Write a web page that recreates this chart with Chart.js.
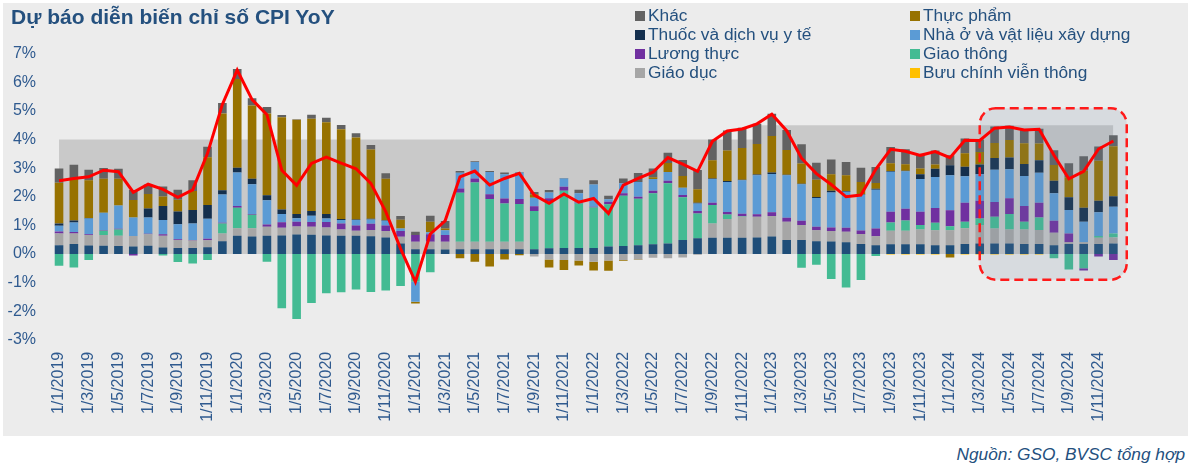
<!DOCTYPE html>
<html lang="vi">
<head>
<meta charset="utf-8">
<title>Dự báo diễn biến chỉ số CPI YoY</title>
<script src="https://cdn.jsdelivr.net/npm/chart.js@4.4.1/dist/chart.umd.min.js"></script>
<style>
  body { margin: 0; background: #fff; font-family: Arial, "Liberation Sans", sans-serif; }
  #wrap { position: relative; width: 1200px; height: 465px; overflow: hidden; }
  #panel { position: absolute; left: 3px; top: 3px; width: 1185px; height: 433px; background: #ececec; }
  #cpiChart { position: absolute; left: 3px; top: 3px; }
  #title { position: absolute; left: 11px; top: 5px; font-size: 21px; font-weight: bold; color: #24507e; white-space: nowrap; }
  #legend { position: absolute; left: 635px; top: 6px; display: grid; grid-template-columns: 275px auto; grid-auto-rows: 19.1px; font-size: 17.3px; color: #24507e; }
  #legend div { display: flex; align-items: center; white-space: nowrap; }
  #legend .box { width: 10px; height: 10px; margin-right: 3px; }
  #source { position: absolute; right: 15px; top: 444px; font-size: 17.3px; font-style: italic; color: #24507e; }
</style>
</head>
<body>
<div id="wrap">
  <div id="panel"></div>
  <canvas id="cpiChart" width="1185" height="433"></canvas>
  <div id="title">Dự báo diễn biến chỉ số CPI YoY</div>
  <div id="legend"></div>
  <div id="source">Nguồn: GSO, BVSC tổng hợp</div>
</div>
<script>
var months = [
  '1/1/2019','1/2/2019','1/3/2019','1/4/2019','1/5/2019','1/6/2019','1/7/2019','1/8/2019','1/9/2019','1/10/2019','1/11/2019','1/12/2019',
  '1/1/2020','1/2/2020','1/3/2020','1/4/2020','1/5/2020','1/6/2020','1/7/2020','1/8/2020','1/9/2020','1/10/2020','1/11/2020','1/12/2020',
  '1/1/2021','1/2/2021','1/3/2021','1/4/2021','1/5/2021','1/6/2021','1/7/2021','1/8/2021','1/9/2021','1/10/2021','1/11/2021','1/12/2021',
  '1/1/2022','1/2/2022','1/3/2022','1/4/2022','1/5/2022','1/6/2022','1/7/2022','1/8/2022','1/9/2022','1/10/2022','1/11/2022','1/12/2022',
  '1/1/2023','1/2/2023','1/3/2023','1/4/2023','1/5/2023','1/6/2023','1/7/2023','1/8/2023','1/9/2023','1/10/2023','1/11/2023','1/12/2023',
  '1/1/2024','1/2/2024','1/3/2024','1/4/2024','1/5/2024','1/6/2024','1/7/2024','1/8/2024','1/9/2024','1/10/2024','1/11/2024','1/12/2024'
];

// bottom segment of every bar (not shown in the legend)
var baseGroup = [
  .31,.35,.30,.29,.28,.26,.29,.23,.21,.21,.24,.45,
  .64,.61,.64,.65,.68,.67,.65,.64,.64,.62,.58,.37,
  .17,.17,.16,.17,.17,.17,.17,.17,.17,.20,.21,.21,
  .21,.26,.28,.31,.34,.37,.49,.55,.57,.57,.57,.58,
  .61,.49,.49,.45,.44,.41,.35,.31,.34,.34,.34,.31,
  .31,.35,.37,.37,.37,.35,.35,.31,.35,.35,.35,.37
];
var giaoDuc = [
  .41,.37,.36,.37,.36,.37,.40,.41,.28,.26,.24,.27,
  .26,.29,.31,.27,.28,.28,.28,.22,.17,.22,.22,.23,
  .26,.26,.27,.26,.26,.26,.26,.26,-.09,-.19,-.21,-.23,
  -.27,-.23,-.21,-.19,-.13,-.15,-.12,-.03,.50,.65,.73,.72,
  .72,.64,.52,.38,.36,.37,.35,.31,.47,.47,.52,.52,
  .52,.55,.64,.52,.49,.51,.49,.43,.06,.06,.22,.21
];
var giaoThong = [
  -.41,-.47,-.21,.15,.22,0,0,-.05,-.28,-.33,-.21,.35,
  .72,.47,-.27,-1.90,-2.27,-1.71,-1.37,-1.34,-1.24,-1.33,-1.28,-1.12,
  -.97,-.64,0,1.71,2.07,1.49,1.34,1.32,1.33,1.63,2.00,1.56,
  1.42,1.48,1.76,1.62,1.78,2.10,1.49,.87,.64,.16,.02,0,
  0,0,-.48,-.38,-.87,-1.17,-.91,-.07,.29,.36,.15,.26,
  .14,.23,.23,.41,.54,.27,.44,-.15,-.54,-.50,.06,.14
];
var luongThuc = [
  .07,.05,.03,.02,.02,-.05,.02,.05,.03,.02,.05,.02,
  .06,.03,.08,.19,.17,.17,.19,.21,.19,.22,.20,.20,
  .23,.26,.23,.15,.14,.17,.17,.17,.17,.12,.14,.02,
  .02,.09,.08,.07,.09,.09,.08,.08,.08,.09,.09,.09,
  .13,.14,.15,.12,.13,.14,.12,.27,.38,.41,.47,.52,
  .56,.66,.62,.52,.55,.55,.51,.42,.31,-.08,-.09,-.21
];
var nhaO = [
  .20,.33,.55,.61,.82,.65,.57,.50,.52,.58,.70,.99,
  1.17,1.04,.85,.29,.12,.22,.12,.12,.19,.15,.16,.09,
  -.70,.07,.17,.55,.58,.78,.85,.93,.30,.20,.29,.33,
  .78,.08,.35,.52,.41,.31,.26,.27,.83,1.05,1.17,1.36,
  1.34,1.48,1.28,1.01,1.22,1.26,1.25,1.36,1.40,1.31,1.14,1.08,
  1.22,.93,.93,1.13,1.01,1.05,1.05,.96,.82,.72,.83,.93
];
var thuoc = [
  .08,.07,.02,0,0,0,.31,.49,.45,.47,.48,.15,
  .17,.19,.17,.16,.15,.16,.16,.03,.02,.02,.02,0,
  0,0,0,0,0,0,0,0,0,0,0,0,
  0,0,0,0,0,0,0,.02,.02,.03,.02,.03,
  .05,.02,.02,.03,.06,.02,.02,.03,.02,.02,.17,.29,
  .35,.33,.34,.41,.41,.42,.44,.44,.44,.49,.40,.37
];
var thucPham = [
  1.42,1.45,1.32,1.19,.93,.61,.51,.33,.41,.66,1.67,2.68,
  3.10,2.56,2.86,3.22,3.29,3.23,3.21,3.14,2.86,2.42,1.45,.31,
  -.06,.37,.06,-.15,-.27,-.44,-.19,-.04,.12,-.28,-.35,-.17,
  -.31,-.36,-.03,-.02,.06,.31,.41,.47,.64,1.07,1.11,1.07,
  1.28,.87,.70,.61,.58,.55,.43,.20,.27,.23,.20,.15,
  -.12,.47,.44,.52,.62,.72,.58,.55,.70,1.29,1.40,1.75
];
var buuChinh = [
  0,0,0,0,0,0,0,0,0,0,0,0,
  0,0,0,0,0,0,0,0,0,0,0,0,
  0,0,0,0,0,0,0,0,0,0,0,0,
  0,0,0,0,0,0,0,0,0,0,0,0,
  0,0,0,0,0,0,0,0,-.02,-.02,-.02,-.02,
  0,-.02,-.02,-.02,-.02,-.02,-.02,0,0,0,0,0
];
var khac = [
  .50,.50,.37,.38,.35,.35,.33,.35,.35,.38,.37,.37,
  .35,.26,.23,.08,.02,.14,.15,.15,.15,.16,.19,.13,
  .12,.21,.26,.06,.02,.03,.06,.02,.08,.09,.02,.13,
  .15,.13,.17,.31,.31,.36,.56,.68,.72,.70,.70,.70,
  .77,.70,.68,.59,.51,.47,.50,.56,.57,.52,.49,.49,
  .35,.52,.43,.58,.49,.49,.52,.52,.49,.51,.50,.38
];
var cpiYoY = [
  2.56,2.64,2.70,2.93,2.88,2.16,2.44,2.26,1.98,2.24,3.52,5.23,
  6.43,5.40,4.87,2.93,2.40,3.17,3.39,3.18,2.98,2.47,1.48,0.19,
  -0.97,0.70,1.16,2.70,2.90,2.41,2.64,2.82,2.06,1.77,2.10,1.81,
  1.94,1.42,2.41,2.64,2.86,3.37,3.14,2.89,3.94,4.30,4.37,4.55,
  4.89,4.31,3.35,2.81,2.43,2.00,2.06,2.96,3.66,3.59,3.45,3.58,
  3.37,3.98,3.97,4.40,4.44,4.34,4.36,3.45,2.63,2.89,3.67,3.95
];
// inflation target band: 4% (2019-2022), 4.5% (2023-2024)
var target = [
  4,4,4,4,4,4,4,4,4,4,4,4,
  4,4,4,4,4,4,4,4,4,4,4,4,
  4,4,4,4,4,4,4,4,4,4,4,4,
  4,4,4,4,4,4,4,4,4,4,4,4,
  4.5,4.5,4.5,4.5,4.5,4.5,4.5,4.5,4.5,4.5,4.5,4.5,
  4.5,4.5,4.5,4.5,4.5,4.5,4.5,4.5,4.5,4.5,4.5,4.5
];
var yTicks = [-3, -2, -1, 0, 1, 2, 3, 4, 5, 6, 7];

// forecast window (3/2024 onwards)
var forecastFrom = 62, forecastTo = 71.9, forecastTop = 5.1, forecastBottom = -0.9;

var legendOrder = ['Khác', 'Thực phẩm', 'Thuốc và dịch vụ y tế', 'Nhà ở và vật liệu xây dựng',
  'Lương thực', 'Giao thông', 'Giáo dục', 'Bưu chính viễn thông'];

Chart.defaults.font.family = 'Arial, "Liberation Sans", sans-serif';

function bar(label, data, color) {
  return { type: 'bar', label: label, data: data, backgroundColor: color, borderWidth: 0,
    barPercentage: 0.58, categoryPercentage: 1, order: 0 };
}

var forecastBox = {
  id: 'forecastBox',
  beforeDatasetDraw: function(chart, args) {
    if (chart.data.datasets[args.index].label !== 'CPI YoY') return;
    var x = chart.scales.x, y = chart.scales.y, c = chart.ctx;
    var l = x.getPixelForValue(forecastFrom), r = x.getPixelForValue(forecastTo);
    var t = y.getPixelForValue(forecastTop), b = y.getPixelForValue(forecastBottom);
    var rad = 16;
    c.save();
    c.beginPath();
    c.moveTo(l + rad, t);
    c.arcTo(r, t, r, b, rad);
    c.arcTo(r, b, l, b, rad);
    c.arcTo(l, b, l, t, rad);
    c.arcTo(l, t, r, t, rad);
    c.closePath();
    c.fillStyle = 'rgba(100,125,155,0.15)';
    c.fill();
    c.setLineDash([9, 5]);
    c.lineWidth = 2.5;
    c.strokeStyle = '#ff1a1a';
    c.stroke();
    c.restore();
  }
};

var ctx = document.getElementById('cpiChart').getContext('2d');
var cpiChart = new Chart(ctx, {
  type: 'bar',
  data: {
    labels: months,
    datasets: [
      { type: 'line', label: 'CPI YoY', data: cpiYoY, borderColor: '#ff0000', borderWidth: 3,
        pointRadius: 0, fill: false, tension: 0, stack: 'cpi', order: -1 },
      bar('Nhóm cơ sở', baseGroup, '#1f4e79'),
      bar('Giáo dục', giaoDuc, '#a6a6a6'),
      bar('Giao thông', giaoThong, '#43bb93'),
      bar('Lương thực', luongThuc, '#7030a0'),
      bar('Nhà ở và vật liệu xây dựng', nhaO, '#5b9bd5'),
      bar('Thuốc và dịch vụ y tế', thuoc, '#142f4d'),
      bar('Thực phẩm', thucPham, '#977200'),
      bar('Bưu chính viễn thông', buuChinh, '#ffc000'),
      bar('Khác', khac, '#626262'),
      { type: 'line', label: 'Mục tiêu', data: target, backgroundColor: '#c9c9c9', borderWidth: 0,
        pointRadius: 0, fill: 'origin', stepped: 'after', stack: 'band', order: 10 }
    ]
  },
  options: {
    responsive: false,
    animation: false,
    layout: { padding: { left: 4.6, right: 67.2, top: 50.8, bottom: 0 } },
    plugins: { legend: { display: false }, tooltip: { enabled: false } },
    scales: {
      x: {
        stacked: true,
        grid: { display: false, drawTicks: false },
        border: { display: false },
        afterFit: function(s) { s.height = 96.2; },
        ticks: {
          autoSkip: false, maxRotation: 90, minRotation: 90, padding: 12,
          color: '#2f5a8f', font: { size: 16 },
          callback: function(v, i) { return i % 2 === 0 ? months[i] : ''; }
        }
      },
      y: {
        stacked: true,
        min: -3, max: 7,
        grid: { display: false, drawTicks: false },
        border: { display: false },
        afterFit: function(s) { s.width = 44; },
        afterBuildTicks: function(s) { s.ticks = yTicks.map(function(v) { return { value: v }; }); },
        ticks: {
          padding: 15.6, color: '#2f5a8f', font: { size: 16 },
          callback: function(v) { return v + '%'; }
        }
      }
    }
  },
  plugins: [forecastBox]
});

// two-column legend
var legendEl = document.getElementById('legend');
legendOrder.forEach(function(name) {
  var ds = cpiChart.data.datasets.find(function(d) { return d.label === name; });
  var item = document.createElement('div');
  var box = document.createElement('span');
  box.className = 'box';
  box.style.background = ds.backgroundColor;
  item.appendChild(box);
  item.appendChild(document.createTextNode(name));
  legendEl.appendChild(item);
});
</script>
</body>
</html>
